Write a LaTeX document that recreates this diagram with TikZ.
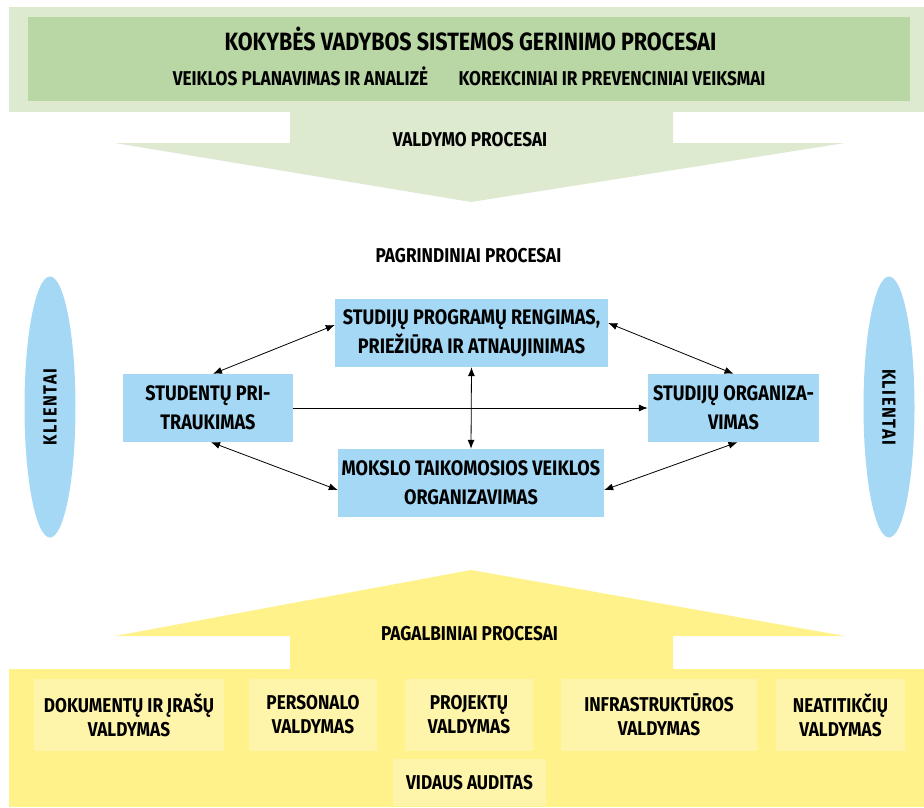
\documentclass[tikz,border=0pt]{standalone}
\usepackage{fontspec}
\setmainfont{Fira Sans}[FakeStretch=0.86]
\usetikzlibrary{shapes.geometric,arrows.meta}
\definecolor{lgreen}{RGB}{221,234,207}
\definecolor{dgreen}{RGB}{185,214,165}
\definecolor{lblue}{RGB}{164,216,245}
\definecolor{yell}{RGB}{255,242,138}
\definecolor{lyell}{RGB}{255,245,170}
\begin{document}
\begin{tikzpicture}[x=1pt, y=-1pt, >={Latex[length=9pt,width=7pt]}, every node/.style={font=\bfseries\fontsize{21}{29}\selectfont, align=center}]
	\tikzstyle{kbox} = [fill=dgreen, inner sep=0pt]
	\tikzstyle{proc} = [fill=lblue, inner sep=0pt, minimum height=68pt]
	\tikzstyle{client} = [ellipse, fill=lblue, inner sep=0pt, minimum width=261pt, minimum height=51pt, font=\bfseries\fontsize{19}{20}\selectfont\addfontfeatures{LetterSpace=8}]
	\tikzstyle{supp} = [fill=lyell, inner sep=0pt, minimum height=72pt, font=\bfseries\fontsize{20}{24}\selectfont]
	\tikzstyle{head} = [anchor=base, font=\bfseries\fontsize{20}{22}\selectfont]
	\useasboundingbox (0,0) rectangle (924,807);
	
	% valdymo procesai
	\fill[lgreen] (9,7) rectangle (924,112);
	\fill[lgreen] (290,112) -- (673,112) -- (673,143) -- (845,143) -- (471,202) -- (115,143) -- (290,143) -- cycle;
	\node[kbox, minimum width=882pt, minimum height=84pt](kvs)at (469,59){};
	\node[head, font=\bfseries\fontsize{25}{27}\selectfont](kvs-t)at (470.5,50){KOKYBĖS VADYBOS SISTEMOS GERINIMO PROCESAI};
	\node[head](kvs-1)at (300.5,85.5){VEIKLOS PLANAVIMAS IR ANALIZĖ};
	\node[head](kvs-2)at (612,85.5){KOREKCINIAI IR PREVENCINIAI VEIKSMAI};
	\node[head](valdymo)at (470,146){VALDYMO PROCESAI};
	
	% pagrindiniai procesai
	\node[head](pagr)at (468.5,262){PAGRINDINIAI PROCESAI};
	\node[proc, minimum width=273pt](prog)at (471.5,333){STUDIJŲ PROGRAMŲ RENGIMAS,\\PRIEŽIŪRA IR ATNAUJINIMAS};
	\node[proc, minimum width=170pt](spr)at (208,408){STUDENTŲ PRI-\\TRAUKIMAS};
	\node[proc, minimum width=171pt](org)at (733.5,408){STUDIJŲ ORGANIZA-\\VIMAS};
	\node[proc, minimum width=266pt](mtv)at (471,483){MOKSLO TAIKOMOSIOS VEIKLOS\\ORGANIZAVIMAS};
	\node[client, rotate=90](kl-1)at (50,407){KLIENTAI};
	\node[client, rotate=-90](kl-2)at (889,407){KLIENTAI};
	
	\path[<->, line width=0.8pt] ([xshift=5pt]spr.north) edge ([yshift=8pt]prog.west)
	([yshift=10pt]prog.east) edge (org.north)
	(prog.south) edge (mtv.north)
	([xshift=3pt]spr.south) edge ([yshift=-7pt]mtv.west)
	([yshift=-7pt]mtv.east) edge ([xshift=4pt]org.south);
	\path[->, line width=0.8pt] (spr.east) edge (org.west);
	
	% pagalbiniai procesai
	\fill[yell] (471,570) -- (845,636) -- (673,636) -- (673,669) -- (290,669) -- (290,636) -- (115,636) -- cycle;
	\fill[yell] (9,669) rectangle (924,807);
	\node[head](pagalb)at (469.5,640){PAGALBINIAI PROCESAI};
	\node[supp, minimum width=190pt](s-1)at (129,715){DOKUMENTŲ IR ĮRAŠŲ\\VALDYMAS};
	\node[supp, minimum width=128pt](s-2)at (313,715){PERSONALO\\VALDYMAS};
	\node[supp, minimum width=128pt](s-3)at (469,715){PROJEKTŲ\\VALDYMAS};
	\node[supp, minimum width=196pt](s-4)at (659,715){INFRASTRUKTŪROS\\VALDYMAS};
	\node[supp, minimum width=129pt](s-5)at (840.5,715){NEATITIKČIŲ\\VALDYMAS};
	\node[supp, minimum width=153pt, minimum height=47pt](s-6)at (469.5,782.5){VIDAUS AUDITAS};
	
	\end{tikzpicture}
\end{document}
